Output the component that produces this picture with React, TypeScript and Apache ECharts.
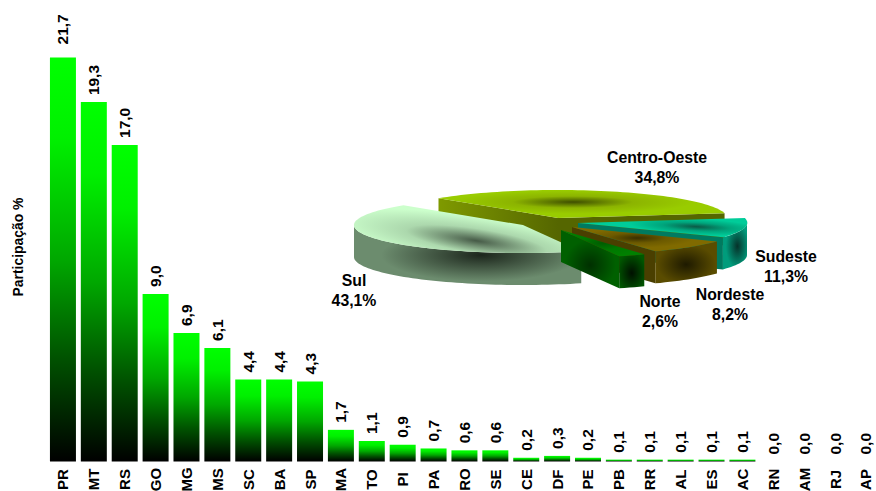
import React, { useEffect, useRef } from "react";
import * as echarts from "echarts";

const categories = ["PR","MT","RS","GO","MG","MS","SC","BA","SP","MA","TO","PI","PA","RO","SE","CE","DF","PE","PB","RR","AL","ES","AC","RN","AM","RJ","AP"];
const shares = [21.7,19.3,17.0,9.0,6.9,6.1,4.4,4.4,4.3,1.7,1.1,0.9,0.7,0.6,0.6,0.2,0.3,0.2,0.1,0.1,0.1,0.1,0.1,0,0,0,0];

// Regions in the pie's angular order, counter-clockwise from its start angle
const regions = ["Sul","Norte","Nordeste","Sudeste","Centro-Oeste"];
const regionShares = [43.1,2.6,8.2,11.3,34.8];
const drawOrder = [4,0,3,2,1];

const FONT = "'Liberation Sans', Arial, sans-serif";
const PIE = { cx: 558, cy: 218, a: 169, b: 28, depth: 32, start: 135 };
const fmt = (v: number) => v.toFixed(1).replace(".", ",");
const DEG = Math.PI / 180;

type Look = {
  dx: number; dy: number; tilt: number;
  face: [number, number, number, string, string, string];
  wall: [number, number, number, string, string];
  radial: [string, string];
  label: [number, number];
};
const looks: Look[] = [
  { dx: -35, dy: 7, tilt: 8.5, face: [0.54, 0.62, 0.62, "#465a47", "#acd8ad", "#ccffcc"], wall: [0.56, 0.5, 0.55, "#1c261c", "#6c8c6e"], radial: ["#6c8c6e", "#6c8c6e"], label: [354, 280] },
  { dx: 3, dy: 12, tilt: 0, face: [0.5, 0.5, 0.5, "#005c00", "#007800", "#008000"], wall: [0.5, 0.55, 0.75, "#001000", "#005800"], radial: ["#003000", "#006000"], label: [660, 301] },
  { dx: 14, dy: 9, tilt: 0, face: [0.45, 0.45, 0.4, "#3a3000", "#6c5a00", "#806a00"], wall: [0.5, 0.55, 0.6, "#1e1a00", "#5a4c00"], radial: ["#4a3f00", "#4a3f00"], label: [730, 294] },
  { dx: 20, dy: 5, tilt: 3, face: [0.7, 0.55, 0.4, "#0b5a46", "#00a57c", "#00cc99"], wall: [0.6, 0.5, 0.6, "#06322a", "#009c7c"], radial: ["#007a60", "#007a60"], label: [786, 256] },
  { dx: 0, dy: 0, tilt: 0, face: [0.47, 0.43, 0.42, "#3f4f00", "#8cb400", "#99cc00"], wall: [0.5, 0.5, 0.5, "#556600", "#556600"], radial: ["#7f9a00", "#556600"], label: [657, 157] },
];

function sliceAngles(idx: number) {
  let t = PIE.start;
  for (let i = 0; i < idx; i++) t += (regionShares[i] / 100) * 360;
  return [t, t + (regionShares[idx] / 100) * 360];
}

function arcPoints(cx: number, cy: number, t0: number, t1: number) {
  const pts: number[][] = [];
  const n = Math.max(2, Math.ceil(Math.abs(t1 - t0) / 2));
  for (let i = 0; i <= n; i++) {
    const t = (t0 + ((t1 - t0) * i) / n) * DEG;
    pts.push([cx + PIE.a * Math.cos(t), cy - PIE.b * Math.sin(t)]);
  }
  return pts;
}

const radial = (g: number[], c: string[]) =>
  new echarts.graphic.RadialGradient(g[0], g[1], g[2],
    c.length === 3
      ? [{ offset: 0, color: c[0] }, { offset: 0.5, color: c[1] }, { offset: 1, color: c[2] }]
      : [{ offset: 0, color: c[0] }, { offset: 0.8, color: c[1] }, { offset: 1, color: c[1] }]);

function renderSlice(params: any) {
  const idx = drawOrder[params.dataIndex];
  const look = looks[idx];
  const [t0, t1] = sliceAngles(idx);
  const cx = PIE.cx + look.dx;
  const cy = PIE.cy + look.dy;
  const children: any[] = [];

  const radialWall = (t: number, color: string[]) => {
    const r = t * DEG;
    const px = cx + PIE.a * Math.cos(r);
    const py = cy - PIE.b * Math.sin(r);
    const fill = idx === 1
      ? radial([0.5, 0.6, 0.55], color)
      : new echarts.graphic.LinearGradient(px < cx ? 0 : 1, 0, px < cx ? 1 : 0, 0, [
          { offset: 0, color: color[0] }, { offset: 1, color: color[1] },
        ]);
    children.push({
      type: "polygon", silent: true,
      shape: { points: [[cx, cy], [px, py], [px, py + PIE.depth], [cx, cy + PIE.depth]] },
      style: { fill },
    });
  };
  if (Math.cos(t0 * DEG) > 0) radialWall(t0, idx === 4 ? [look.wall[3], look.wall[4]] : look.radial);
  if (Math.cos(t1 * DEG) < 0) radialWall(t1, look.radial);

  // Outer wall: only the near half of the rim is visible
  const wa = Math.max(t0, 180);
  const wb = Math.min(t1, 360);
  if (wb > wa) {
    const top = arcPoints(cx, cy, wa, wb);
    const bottom = top.map(([x, y]) => [x, y + PIE.depth]).reverse();
    const [gx, gy, gr, c0, c1] = look.wall;
    children.push({
      type: "polygon", silent: true,
      shape: { points: [...top, ...bottom] },
      style: { fill: radial([gx, gy, gr], [c0, c1]) },
    });
  }

  // Top face, laid out in a tilted frame so that its shading follows the slice
  const th = look.tilt * DEG;
  const c = Math.cos(th), s = Math.sin(th);
  const facePts = [[cx, cy], ...arcPoints(cx, cy, t0, t1)].map(([x, y]) => {
    const ox = x - cx, oy = y - cy;
    return [cx + ox * c + oy * s, cy - ox * s + oy * c];
  });
  const [fx, fy, fr, f0, f1, f2] = look.face;
  children.push({
    type: "polygon", silent: true,
    originX: cx, originY: cy, rotation: -th,
    shape: { points: facePts },
    style: { fill: radial([fx, fy, fr], [f0, f1, f2]) },
  });
  return { type: "group", children };
}

export default function App() {
  const ref = useRef<HTMLDivElement>(null);
  useEffect(() => {
    const chart = echarts.init(ref.current!, null, { renderer: "svg" });
    const text = (x: number, y: number, t: string) => ({
      type: "text", x, y,
      style: { text: t, fill: "#000", font: `bold 15.8px ${FONT}`, textAlign: "center", textVerticalAlign: "middle" },
    });
    chart.setOption({
      animation: false,
      backgroundColor: "#fff",
      grid: { left: 47.5, top: 14.6, width: 833.9, height: 446.9, containLabel: false, outerBoundsMode: "none" },
      xAxis: {
        type: "category", data: categories,
        axisLine: { show: false }, axisTick: { show: false },
        axisLabel: {
          interval: 0, rotate: 90, margin: 18, align: "center", verticalAlign: "middle", hideOverlap: false,
          color: "#000", fontFamily: FONT, fontWeight: "bold", fontSize: 15,
        },
      },
      yAxis: { type: "value", min: 0, max: 24, show: false },
      graphic: [
        {
          type: "text", x: 18, y: 247, rotation: Math.PI / 2,
          style: { text: "Participação %", fill: "#000", font: `bold 13.9px ${FONT}`, textAlign: "center", textVerticalAlign: "middle" },
        },
        ...regions.flatMap((name, i) => [
          text(looks[i].label[0], looks[i].label[1], name),
          text(looks[i].label[0], looks[i].label[1] + 20, fmt(regionShares[i]) + "%"),
        ]),
      ],
      series: [
        {
          type: "bar",
          barWidth: 26,
          data: shares.map((v, i) => ({
            value: v,
            ...(i === 0 ? { label: { distance: 13 } } : {}),
          })),
          itemStyle: {
            color: new echarts.graphic.LinearGradient(0, 0, 0, 1, [
              { offset: 0, color: "#00ff00" },
              { offset: 0.2, color: "#00f000" },
              { offset: 0.5, color: "#00a800" },
              { offset: 0.75, color: "#005000" },
              { offset: 1, color: "#000000" },
            ]),
          },
          label: {
            show: true, position: "top", rotate: 90, distance: 7,
            align: "left", verticalAlign: "middle",
            color: "#000", fontFamily: FONT, fontWeight: "bold", fontSize: 15.5,
            formatter: (p: any) => fmt(p.value),
          },
          silent: true,
        },
        {
          type: "custom",
          coordinateSystem: "none",
          silent: true,
          z: 5,
          data: drawOrder.map((i) => ({ name: regions[i], value: regionShares[i] })),
          renderItem: renderSlice,
        },
      ],
    });
    return () => chart.dispose();
  }, []);
  return <div ref={ref} style={{ position: "absolute", left: 0, top: 0, width: 876, height: 491 }} />;
}
